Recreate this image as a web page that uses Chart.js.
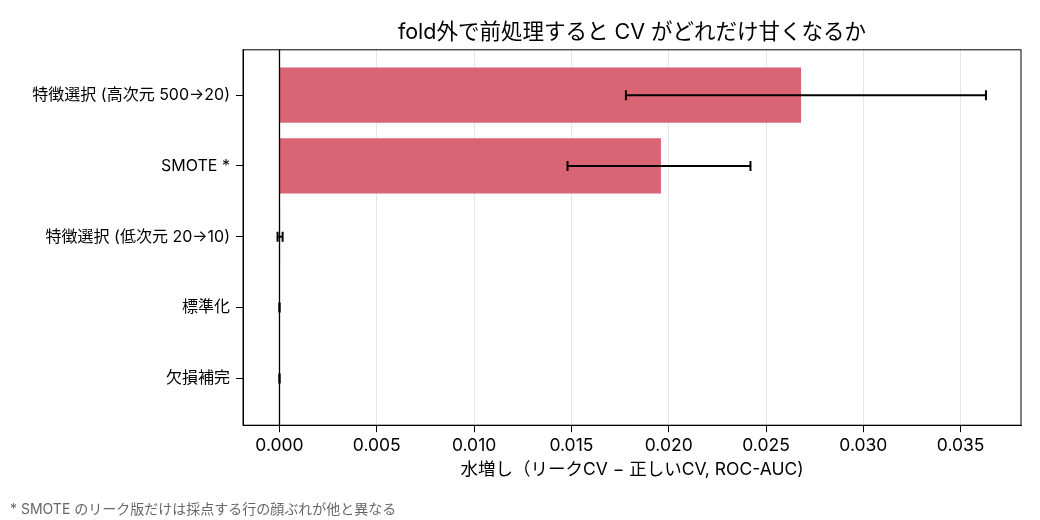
<!DOCTYPE html>
<html>
<head>
<meta charset="utf-8">
<script src="https://cdn.jsdelivr.net/npm/chart.js@4"></script>
<style>
  html, body { margin: 0; padding: 0; background: #fff; }
  #wrap { width: 1040px; height: 520px; }
</style>
</head>
<body>
<div id="wrap"><canvas id="leakChart" width="1040" height="520"></canvas></div>
<script>
const methods = ['特徴選択 (高次元 500→20)', 'SMOTE *', '特徴選択 (低次元 20→10)', '標準化', '欠損補完'];
const gains = [0.0268, 0.0196, 0.00003, 0, 0];
const errLow = [0.0178, 0.0148, -0.0001, -0.00001, -0.00001];
const errHigh = [0.0363, 0.0242, 0.00016, 0.00001, 0.00001];
const xTicks = [0, 0.005, 0.010, 0.015, 0.020, 0.025, 0.030, 0.035];

const FONT = "Inter, 'Noto Sans CJK JP', sans-serif";

const frameAndErrors = {
    id: 'frameAndErrors',
    afterDatasetsDraw(chart) {
        const { ctx, chartArea: a, scales } = chart;
        const xs = scales.x, ys = scales.y;
        ctx.save();
        // zero line
        const x0 = xs.getPixelForValue(0);
        ctx.strokeStyle = '#000';
        ctx.lineWidth = 1.3;
        ctx.beginPath();
        ctx.moveTo(x0, a.top);
        ctx.lineTo(x0, a.bottom);
        ctx.stroke();
        // error bars
        ctx.lineWidth = 2;
        methods.forEach((m, i) => {
            const y = ys.getPixelForValue(i);
            const x1 = xs.getPixelForValue(errLow[i]);
            const x2 = xs.getPixelForValue(errHigh[i]);
            ctx.beginPath();
            ctx.moveTo(x1, y); ctx.lineTo(x2, y);
            ctx.moveTo(x1, y - 5); ctx.lineTo(x1, y + 5);
            ctx.moveTo(x2, y - 5); ctx.lineTo(x2, y + 5);
            ctx.stroke();
        });
        // frame
        ctx.lineWidth = 1;
        ctx.strokeRect(a.left, a.top, a.right - a.left, a.bottom - a.top);
        ctx.restore();
    }
};

const ctx = document.getElementById('leakChart').getContext('2d');
new Chart(ctx, {
    type: 'bar',
    data: {
        datasets: [{
            data: gains.map((v, i) => ({ x: v, y: i })),
            backgroundColor: '#d86474',
            borderWidth: 0,
            categoryPercentage: 1,
            barPercentage: 0.78
        }]
    },
    options: {
        indexAxis: 'y',
        responsive: false,
        animation: false,
        layout: { padding: { left: 10, right: 19, top: 8, bottom: 2 } },
        scales: {
            x: {
                type: 'linear',
                min: -0.001875,
                max: 0.0381,
                afterBuildTicks: (scale) => { scale.ticks = xTicks.map(v => ({ value: v })); },
                ticks: {
                    color: '#000',
                    font: { family: FONT, size: 17.5 },
                    padding: 3,
                    callback: (v) => Number(v).toFixed(3)
                },
                grid: {
                    color: '#e6e6e6',
                    tickColor: '#000',
                    tickLength: 7
                },
                border: { color: '#000' },
                title: {
                    display: true,
                    text: '水増し（リークCV − 正しいCV, ROC-AUC)',
                    color: '#000',
                    font: { family: FONT, size: 17.5 },
                    padding: { top: 0, bottom: 0 }
                }
            },
            y: {
                type: 'linear',
                reverse: true,
                offset: false,
                min: -0.64,
                max: 4.66,
                afterBuildTicks: (scale) => { scale.ticks = methods.map((m, i) => ({ value: i })); },
                afterFit: (scale) => { scale.width = 233; },
                ticks: {
                    color: '#000',
                    font: { family: FONT, size: 16 },
                    padding: 6,
                    callback: (v) => methods[v]
                },
                grid: {
                    offset: false,
                    drawOnChartArea: false,
                    tickColor: '#000',
                    tickLength: 7
                },
                border: { color: '#000' }
            }
        },
        plugins: {
            legend: { display: false },
            tooltip: { enabled: false },
            title: {
                display: true,
                fullSize: false,
                text: 'fold外で前処理すると CV がどれだけ甘くなるか',
                color: '#000',
                font: { family: FONT, size: 21.5, weight: 'normal' },
                padding: { top: 12, bottom: 4 }
            },
            subtitle: {
                display: true,
                position: 'bottom',
                align: 'start',
                text: '* SMOTE のリーク版だけは採点する行の顔ぶれが他と異なる',
                color: '#666',
                font: { family: FONT, size: 14 },
                padding: { top: 21, bottom: 0 }
            }
        }
    },
    plugins: [frameAndErrors]
});
</script>
</body>
</html>
